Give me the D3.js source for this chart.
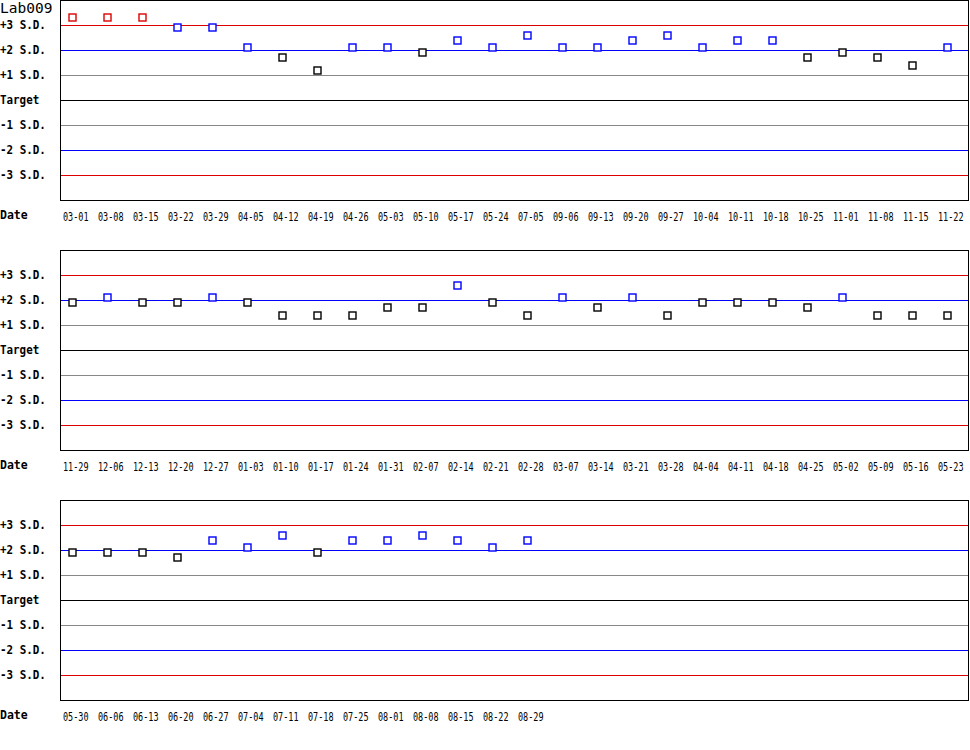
<!DOCTYPE html>
<html><head><meta charset="utf-8">
<script src="https://cdn.jsdelivr.net/npm/d3@7"></script>
<style>
html,body{margin:0;padding:0;background:#fff;}
svg{display:block;}
</style></head>
<body>
<svg id="chart" width="970" height="750"></svg>
<script>
const title = "Lab009";
const sdLevels = [3, 2, 1, 0, -1, -2, -3];
const sdLabels = ["+3 S.D.", "+2 S.D.", "+1 S.D.", "Target", "-1 S.D.", "-2 S.D.", "-3 S.D."];
const sdColors = ["#dd0000", "#0000ff", "#888888", "#000000", "#888888", "#0000ff", "#dd0000"];

const dates1 = ["03-01","03-08","03-15","03-22","03-29","04-05","04-12","04-19","04-26","05-03","05-10","05-17","05-24","07-05","09-06","09-13","09-20","09-27","10-04","10-11","10-18","10-25","11-01","11-08","11-15","11-22"];
const values1 = [3.32,3.32,3.32,2.9,2.9,2.12,1.7,1.19,2.12,2.12,1.9,2.39,2.12,2.59,2.12,2.12,2.39,2.59,2.12,2.39,2.39,1.7,1.9,1.7,1.39,2.12];

const dates2 = ["11-29","12-06","12-13","12-20","12-27","01-03","01-10","01-17","01-24","01-31","02-07","02-14","02-21","02-28","03-07","03-14","03-21","03-28","04-04","04-11","04-18","04-25","05-02","05-09","05-16","05-23"];
const values2 = [1.9,2.12,1.9,1.9,2.12,1.9,1.39,1.39,1.39,1.7,1.7,2.59,1.9,1.39,2.12,1.7,2.12,1.39,1.9,1.9,1.9,1.7,2.12,1.39,1.39,1.39];

const dates3 = ["05-30","06-06","06-13","06-20","06-27","07-04","07-11","07-18","07-25","08-01","08-08","08-15","08-22","08-29"];
const values3 = [1.9,1.9,1.9,1.7,2.39,2.12,2.59,1.9,2.39,2.39,2.59,2.39,2.12,2.39];

const panels = [
  {dates: dates1, values: values1},
  {dates: dates2, values: values2},
  {dates: dates3, values: values3}
];

const svg = d3.select("#chart");
const plotLeft = 60, plotRight = 968, panelH = 200, panelGap = 250;
const perRow = 26;

const x = d3.scaleLinear().domain([0, perRow - 1]).range([72, 947]);
const y = d3.scaleLinear().domain([-4, 4]).range([panelH, 0]);

function pointColor(v) {
  const a = Math.abs(v);
  if (a >= 3) return "#dd0000";
  if (a >= 2) return "#0000ff";
  return "#000000";
}

svg.append("text")
  .attr("x", 0).attr("y", 13)
  .attr("font-family", "DejaVu Sans Mono, monospace")
  .attr("font-size", 14.5)
  .attr("fill", "#000")
  .text(title);

panels.forEach((p, pi) => {
  const g = svg.append("g").attr("transform", `translate(0,${pi * panelGap})`);

  g.selectAll("line.sd").data(sdLevels).join("line")
    .attr("class", "sd")
    .attr("x1", plotLeft).attr("x2", plotRight)
    .attr("y1", d => y(d) + 0.5).attr("y2", d => y(d) + 0.5)
    .attr("stroke", (d, i) => sdColors[i])
    .attr("stroke-width", 1)
    .attr("shape-rendering", "crispEdges");

  g.selectAll("text.sd").data(sdLevels).join("text")
    .attr("class", "sd")
    .attr("x", 0).attr("y", d => y(d) + 4)
    .attr("font-family", "DejaVu Sans Mono, monospace")
    .attr("font-weight", "bold")
    .attr("font-size", 11.5)
    .attr("textLength", (d, i) => sdLabels[i].length * 6.7 - 1)
    .attr("lengthAdjust", "spacingAndGlyphs")
    .attr("fill", "#000")
    .text((d, i) => sdLabels[i]);

  g.append("rect")
    .attr("x", plotLeft + 0.5).attr("y", 0.5)
    .attr("width", plotRight - plotLeft).attr("height", panelH)
    .attr("fill", "none").attr("stroke", "#000").attr("stroke-width", 1)
    .attr("shape-rendering", "crispEdges");

  g.append("text")
    .attr("x", 0).attr("y", panelH + 19)
    .attr("font-family", "DejaVu Sans Mono, monospace")
    .attr("font-weight", "bold")
    .attr("font-size", 11.5)
    .attr("fill", "#000")
    .text("Date");

  g.selectAll("text.date").data(p.dates).join("text")
    .attr("class", "date")
    .attr("transform", (d, i) => `translate(${x(i) - 9},${panelH + 21}) scale(0.74,1)`)
    .attr("font-family", "DejaVu Sans Mono, monospace")
    .attr("font-size", 11.5)
    .attr("fill", "#000")
    .text(d => d);

  g.selectAll("rect.pt").data(p.values).join("rect")
    .attr("class", "pt")
    .attr("x", (d, i) => Math.round(x(i)) - 3)
    .attr("y", d => Math.round(y(d)) - 3)
    .attr("width", 7).attr("height", 7)
    .attr("fill", "#fff")
    .attr("stroke", d => pointColor(d))
    .attr("stroke-width", 1.4);
});
</script>
</body></html>
